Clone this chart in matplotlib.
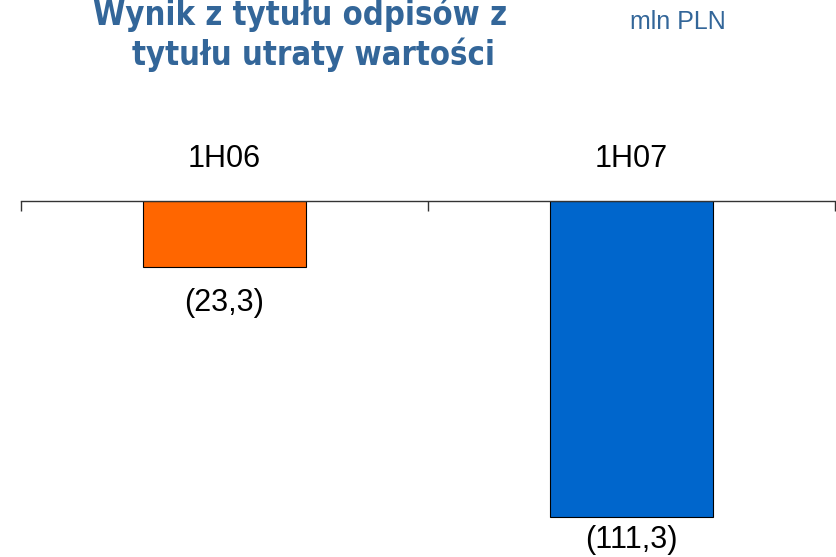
import matplotlib
matplotlib.use("Agg")
import matplotlib.pyplot as plt
from matplotlib import font_manager

# dane
categories = ["1H06", "1H07"]
values = [-23.3, -111.3]
value_labels = ["(23,3)", "(111,3)"]
bar_colors = ["#FF6600", "#0066CC"]

title_lines = ["Wynik z tytułu odpisów z", "tytułu utraty wartości"]
unit = "mln PLN"
blue = "#336699"

plt.rcParams["font.family"] = ["Liberation Sans", "DejaVu Sans"]

# tytuł: wąska, pogrubiona czcionka (DejaVu Sans Condensed Bold, jeśli jest)
has_cond = any(f.name == "DejaVu Sans" and f.stretch == "condensed"
               for f in font_manager.fontManager.ttflist)
title_font = dict(family="DejaVu Sans", stretch="condensed") if has_cond else dict(family="Liberation Sans")

W, H = 836, 557
fig = plt.figure(figsize=(W / 100, H / 100), dpi=100)
ax = fig.add_axes([21 / W, 0.0, (835 - 21) / W, 1 - 201 / H])

x = range(len(categories))
ax.bar(x, values, width=0.4, color=bar_colors, edgecolor="black", linewidth=0.8, zorder=2)
ax.set_xlim(-0.5, len(categories) - 0.5)
ax.set_ylim(-125.4, 0)

for s in ["left", "right", "bottom"]:
    ax.spines[s].set_visible(False)
ax.spines["top"].set_color("#333333")
ax.spines["top"].set_linewidth(1.0)
ax.set_yticks([])
ax.xaxis.set_ticks_position("top")
ax.set_xticks([i - 0.5 for i in range(len(categories) + 1)])
ax.set_xticklabels([])
ax.tick_params(axis="x", direction="in", length=7.5, width=1.0, color="#333333")

# odstęp etykiet wartości pod słupkami (w pikselach)
label_gap = [44, 31]
for i, (cat, v, lab) in enumerate(zip(categories, values, value_labels)):
    ax.annotate(cat, (i, 0), xytext=(0, 34), textcoords="offset pixels",
                ha="center", va="baseline", fontsize=22)
    ax.annotate(lab, (i, v), xytext=(0, -label_gap[i]), textcoords="offset pixels",
                ha="center", va="baseline", fontsize=22)

fig.text(300 / W, 1 - 25 / H, title_lines[0], ha="center", va="baseline",
         fontsize=23.5, fontweight="bold", color=blue, **title_font)
fig.text(313 / W, 1 - 65 / H, title_lines[1], ha="center", va="baseline",
         fontsize=23.5, fontweight="bold", color=blue, **title_font)
fig.text(678 / W, 1 - 29 / H, unit, ha="center", va="baseline",
         fontsize=18, color=blue)

fig.savefig("out.png", dpi=100)
